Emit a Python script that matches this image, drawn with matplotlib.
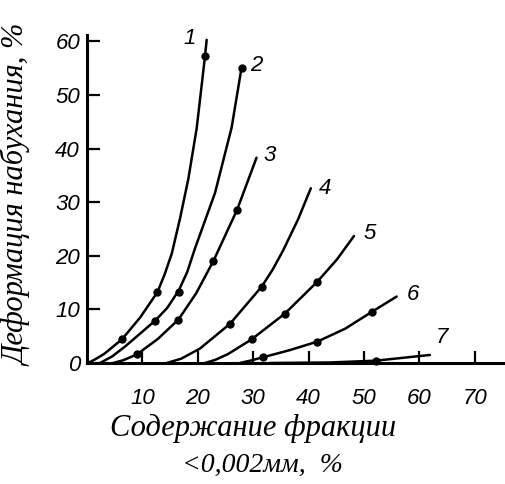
import matplotlib
matplotlib.use("Agg")
import matplotlib.pyplot as plt

# swelling strain (%) vs clay fraction content (%), traced curves 1..7
c1_x = [0.2, 1.5, 3.1, 6.3, 9.6, 12.7, 14.0, 15.3, 16.8, 18.3, 19.8, 21.3, 21.6]
c1_y = [0.0, 0.7, 1.7, 4.4, 8.5, 13.2, 16.5, 20.4, 27.0, 34.4, 43.8, 57.2, 60.3]
c1_px = [6.3, 12.7, 21.3]
c1_py = [4.4, 13.2, 57.2]

c2_x = [2.35, 4.5, 6.9, 12.3, 14.5, 16.6, 18.1, 19.5, 23.1, 26.1, 27.9]
c2_y = [0.0, 1.2, 3.1, 7.9, 10.3, 13.6, 17.0, 21.4, 31.7, 43.9, 55.1]
c2_px = [12.3, 16.6, 27.9]
c2_py = [7.9, 13.3, 55.1]

c3_x = [4.7, 6.5, 9.0, 12.8, 16.5, 19.7, 22.8, 27.1, 30.6]
c3_y = [0.0, 0.5, 1.6, 4.5, 8.1, 13.0, 19.0, 28.6, 38.3]
c3_px = [9.0, 16.5, 22.8, 27.1]
c3_py = [1.6, 8.1, 19.0, 28.6]

c4_x = [14.4, 17.0, 20.4, 25.8, 31.5, 33.5, 35.4, 38.1, 40.4]
c4_y = [0.0, 0.8, 2.7, 7.3, 14.2, 17.4, 21.0, 26.8, 32.6]
c4_px = [25.8, 31.5]
c4_py = [7.3, 14.2]

c5_x = [21.3, 23.2, 25.5, 29.7, 35.7, 41.6, 45.1, 48.2]
c5_y = [0.0, 0.6, 1.7, 4.4, 9.2, 15.2, 19.3, 23.7]
c5_px = [29.7, 35.7, 41.6]
c5_py = [4.4, 9.2, 15.2]

c6_x = [27.6, 29.5, 31.7, 36.6, 41.6, 46.6, 51.5, 55.9]
c6_y = [0.0, 0.45, 1.05, 2.4, 4.0, 6.4, 9.6, 12.4]
c6_px = [31.7, 41.6, 51.5]
c6_py = [1.05, 4.0, 9.6]

c7_x = [33.0, 43.9, 52.2, 61.9]
c7_y = [0.0, 0.1, 0.44, 1.5]
c7_px = [52.2]
c7_py = [0.44]

x_ticks = [10, 20, 30, 40, 50, 60, 70]
y_ticks = [0, 10, 20, 30, 40, 50, 60]

curves = [
    ("1", c1_x, c1_y, c1_px, c1_py),
    ("2", c2_x, c2_y, c2_px, c2_py),
    ("3", c3_x, c3_y, c3_px, c3_py),
    ("4", c4_x, c4_y, c4_px, c4_py),
    ("5", c5_x, c5_y, c5_px, c5_py),
    ("6", c6_x, c6_y, c6_px, c6_py),
    ("7", c7_x, c7_y, c7_px, c7_py),
]

# where each curve number sits, in data units
label_pos = {
    "1": (18.6, 60.6),
    "2": (30.6, 55.5),
    "3": (33.0, 38.8),
    "4": (43.0, 32.6),
    "5": (51.1, 24.1),
    "6": (58.9, 12.7),
    "7": (64.0, 4.7),
}

num_font = "Liberation Sans"
txt_font = "Liberation Serif"

fig = plt.figure(figsize=(5.06, 4.84), dpi=100)
ax = fig.add_axes([87 / 506, 121 / 484, 419 / 506, 328 / 484])
ax.set_xlim(0, 419 / 5.54)
ax.set_ylim(0, 328 / 5.36)

for side in ["top", "right"]:
    ax.spines[side].set_visible(False)
for side in ["left", "bottom"]:
    ax.spines[side].set_linewidth(2.2)

for name, xs, ys, pxs, pys in curves:
    ax.plot(xs, ys, color="black", lw=1.8, solid_capstyle="round",
            solid_joinstyle="round", clip_on=False)
    ax.plot(pxs, pys, "o", color="black", ms=5, clip_on=False)
    lx, ly = label_pos[name]
    ax.text(lx, ly, name, fontsize=16, fontstyle="italic", family=num_font,
            ha="center", va="center")

ax.set_xticks(x_ticks, labels=[str(v) for v in x_ticks],
              fontstyle="italic", family=num_font)
ax.set_yticks(y_ticks, labels=[str(v) for v in y_ticks],
              fontstyle="italic", family=num_font)
ax.tick_params(direction="in", length=9, width=1.6, labelsize=16)
ax.tick_params(axis="x", pad=18)
ax.tick_params(axis="y", pad=5)

fig.text(17 / 506, 1 - 195 / 484, "Деформация набухания, %", rotation=90,
         fontsize=22, fontstyle="italic", family=txt_font,
         ha="center", va="center")
fig.text(253 / 506, 1 - 428 / 484, "Содержание фракции",
         fontsize=22, fontstyle="italic", family=txt_font,
         ha="center", va="center")
fig.text(262 / 506, 1 - 465 / 484, "<0,002мм,  %",
         fontsize=20, fontstyle="italic", family=txt_font,
         ha="center", va="center")

fig.savefig("out.png", dpi=100, facecolor="white")
